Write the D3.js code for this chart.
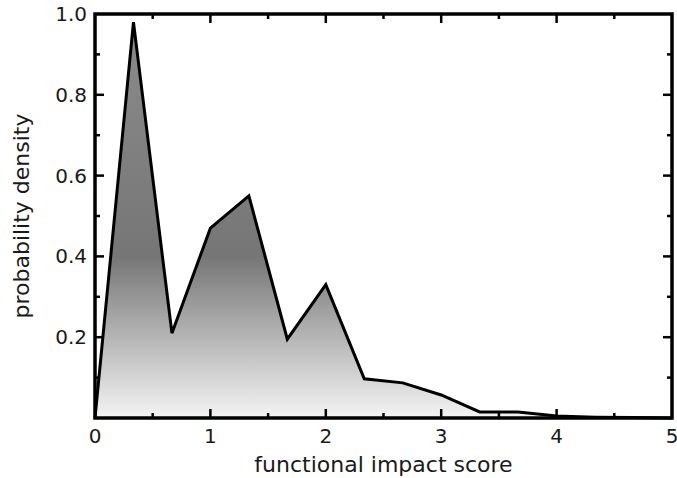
<!DOCTYPE html>
<html>
<head>
<meta charset="utf-8">
<script src="https://cdn.jsdelivr.net/npm/d3@7"></script>
<style>
  body { margin: 0; background: #fff; }
  text { font-family: "DejaVu Sans", sans-serif; fill: #1a1a1a; }
</style>
</head>
<body>
<div id="chart"></div>
<script>
// score bins (thirds of a unit) and density values
const scores = [0, 1/3, 2/3, 1, 4/3, 5/3, 2, 7/3, 8/3, 3, 10/3, 11/3, 4, 13/3, 14/3, 5];
const density = [0, 0.98, 0.21, 0.47, 0.55, 0.195, 0.33, 0.097, 0.087, 0.057, 0.015, 0.015, 0.005, 0.002, 0.001, 0];
const xTicks = [0, 1, 2, 3, 4, 5];
const yTicks = [0.2, 0.4, 0.6, 0.8, 1.0];

const width = 677, height = 478;
const margin = { top: 14, right: 5, bottom: 60, left: 95 };
const w = width - margin.left - margin.right;
const h = height - margin.top - margin.bottom;

const svg = d3.select('#chart').append('svg')
  .attr('width', width)
  .attr('height', height);

const g = svg.append('g')
  .attr('transform', `translate(${margin.left},${margin.top})`);

const x = d3.scaleLinear().domain([0, 5]).range([0, w]);
const y = d3.scaleLinear().domain([0, 1]).range([h, 0]);

// vertical grey gradient, darkest a bit below the middle
const grad = svg.append('defs').append('linearGradient')
  .attr('id', 'fillGrad')
  .attr('gradientUnits', 'userSpaceOnUse')
  .attr('x1', 0).attr('x2', 0)
  .attr('y1', y(1)).attr('y2', y(0));
grad.append('stop').attr('offset', '0').attr('stop-color', '#8c8c8c');
grad.append('stop').attr('offset', '0.6').attr('stop-color', '#767676');
grad.append('stop').attr('offset', '1').attr('stop-color', '#f4f4f4');

const pts = scores.map((s, i) => [s, density[i]]);

const area = d3.area()
  .x(d => x(d[0]))
  .y0(y(0))
  .y1(d => y(d[1]));

const line = d3.line()
  .x(d => x(d[0]))
  .y(d => y(d[1]));

g.append('path')
  .datum(pts)
  .attr('fill', 'url(#fillGrad)')
  .attr('d', area);

g.append('path')
  .datum(pts)
  .attr('fill', 'none')
  .attr('stroke', '#000')
  .attr('stroke-width', 3)
  .attr('stroke-linejoin', 'miter')
  .attr('d', line);

// inward ticks on all four sides
const xMinor = d3.range(0.5, 5, 1);
const yMinor = d3.range(0.1, 1, 0.2);

function ticks(sel, vals, len, side) {
  vals.forEach(v => {
    let l;
    if (side === 'bottom') l = [x(v), h, x(v), h - len];
    if (side === 'top') l = [x(v), 0, x(v), len];
    if (side === 'left') l = [0, y(v), len, y(v)];
    if (side === 'right') l = [w, y(v), w - len, y(v)];
    sel.append('line')
      .attr('x1', l[0]).attr('y1', l[1]).attr('x2', l[2]).attr('y2', l[3])
      .attr('stroke', '#000').attr('stroke-width', 2.5);
  });
}
const tk = g.append('g');
ticks(tk, xTicks.slice(1, -1), 9, 'bottom');
ticks(tk, xTicks.slice(1, -1), 9, 'top');
ticks(tk, xMinor, 5, 'bottom');
ticks(tk, xMinor, 5, 'top');
ticks(tk, yTicks.slice(0, -1), 9, 'left');
ticks(tk, yTicks.slice(0, -1), 9, 'right');
ticks(tk, yMinor, 5, 'left');
ticks(tk, yMinor, 5, 'right');

g.append('rect')
  .attr('width', w).attr('height', h)
  .attr('fill', 'none')
  .attr('stroke', '#000')
  .attr('stroke-width', 3.5);

// tick labels
g.selectAll('.xl').data(xTicks).enter().append('text')
  .attr('x', d => x(d))
  .attr('y', h + 25)
  .attr('text-anchor', 'middle')
  .style('font-size', '20px')
  .text(d => d);

g.selectAll('.yl').data(yTicks).enter().append('text')
  .attr('x', -8)
  .attr('y', d => y(d))
  .attr('dy', '0.35em')
  .attr('text-anchor', 'end')
  .style('font-size', '20px')
  .text(d => d.toFixed(1));

g.append('text')
  .attr('x', w / 2)
  .attr('y', h + 54)
  .attr('text-anchor', 'middle')
  .style('font-size', '22px')
  .text('functional impact score');

g.append('text')
  .attr('transform', `translate(${-66},${h / 2}) rotate(-90)`)
  .attr('text-anchor', 'middle')
  .style('font-size', '22px')
  .text('probability density');
</script>
</body>
</html>
